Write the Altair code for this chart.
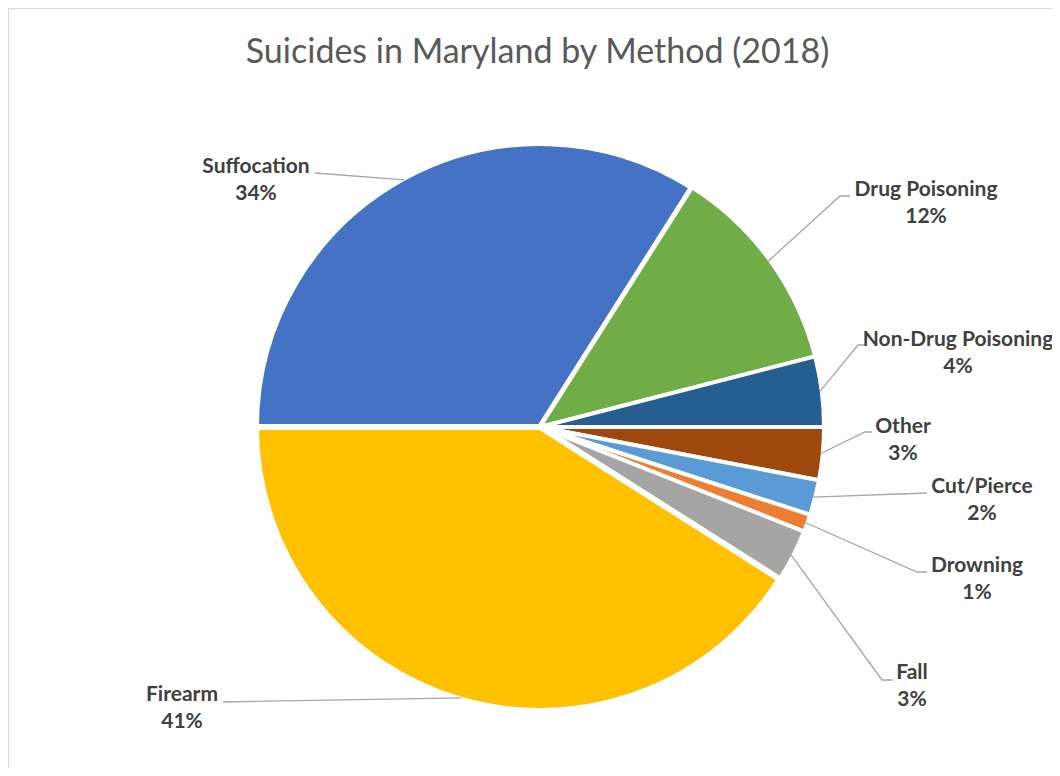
import math
import altair as alt
import pandas as pd

# ---- data -------------------------------------------------------------
methods = ["Suffocation", "Drug Poisoning", "Non-Drug Poisoning", "Other",
           "Cut/Pierce", "Drowning", "Fall", "Firearm"]
percents = [34, 12, 4, 3, 2, 1, 3, 41]
colors = ["#4472C4", "#70AD47", "#255E91", "#9E480E",
          "#5B9BD5", "#ED7D31", "#A5A5A5", "#FFC000"]
title_text = "Suicides in Maryland by Method (2018)"

# ---- layout (pixels relative to the pie centre, y up) ------------------
R = 284
label_pos = [(-284, 260), (386, 237), (418, 87), (363, 0),
             (442, -60), (437, -139), (372, -246), (-358, -268)]
leader_elbow = [(-225, 254), (300, 231), (318, 82), (325, -5),
                (387, -66), (377, -145), (342, -253), (-317, -275)]
leader_end = [(-225, 254), (310, 231), (325, 82), (332, -5),
              (387, -66), (387, -145), (353, -253), (-317, -275)]
stroke_w = [6, 4, 4, 4, 4, 4, 4, 6]

W, H = 1043, 690
PAD_L, PAD_T = 1, 70
CX, CY = 540 - 8 - PAD_L, 427 - 8 - PAD_T  # centre inside the view
xdom = [-CX, W - CX]
ydom = [-(H - CY), CY]
xs = alt.Scale(domain=xdom, nice=False, zero=False)
ys = alt.Scale(domain=ydom, nice=False, zero=False)

total = sum(percents)
rows, leaders, labels = [], [], []
acc = 0.0
for i, (m, p) in enumerate(zip(methods, percents)):
    t0 = acc / total * 100
    acc += p
    t1 = acc / total * 100
    rows.append({"method": m, "t0": t0, "t1": t1, "sw": stroke_w[i], "order": i})
    mid = math.radians(270 + (t0 + t1) / 2 * 3.6)
    sx, sy = (R - 2) * math.sin(mid), (R - 2) * math.cos(mid)
    pts = [(sx, sy), leader_elbow[i], leader_end[i]]
    for k, (x, y) in enumerate(pts):
        leaders.append({"method": m, "k": k, "x": x, "y": y})
    labels.append({"method": m, "text": f"{m}\n{p}%",
                   "x": label_pos[i][0], "y": label_pos[i][1]})

slices = pd.DataFrame(rows)
lead_df = pd.DataFrame(leaders)
lab_df = pd.DataFrame(labels)

theta_scale = alt.Scale(domain=[0, 100],
                        range=[1.5 * math.pi, 3.5 * math.pi])

pie = alt.Chart(slices).mark_arc(radius=R, stroke="white").encode(
    theta=alt.Theta("t0:Q", scale=theta_scale, stack=False),
    theta2="t1:Q",
    x=alt.datum(0, scale=xs, axis=None),
    y=alt.datum(0, scale=ys, axis=None),
    color=alt.Color("method:N", scale=alt.Scale(domain=methods, range=colors),
                    legend=None),
    strokeWidth=alt.StrokeWidth("sw:Q", scale=None),
    order=alt.Order("order:Q"),
)

lines = alt.Chart(lead_df).mark_line(color="#a6a6a6", strokeWidth=1.3).encode(
    x=alt.X("x:Q", scale=xs, axis=None),
    y=alt.Y("y:Q", scale=ys, axis=None),
    detail="method:N",
    order="k:Q",
)

texts = alt.Chart(lab_df).mark_text(
    font="Lato", fontSize=21, fontWeight="bold", color="#404040",
    lineBreak="\n", lineHeight=27, align="center", baseline="middle",
).encode(
    x=alt.X("x:Q", scale=xs, axis=None),
    y=alt.Y("y:Q", scale=ys, axis=None),
    text="text:N",
)

frame_top = alt.Chart(slices).mark_rule(color="#d9d9d9", strokeWidth=1).encode(
    x=alt.value(-0.5), x2=alt.value(W), y=alt.value(-PAD_T + 0.5))
frame_left = alt.Chart(slices).mark_rule(color="#d9d9d9", strokeWidth=1).encode(
    x=alt.value(-0.5), y=alt.value(-PAD_T + 0.5), y2=alt.value(H))

chart = alt.layer(pie, lines, texts, frame_top, frame_left).properties(
    width=W, height=H,
    autosize=alt.AutoSizeParams(type="none"),
    padding={"left": PAD_L, "top": PAD_T, "right": 0, "bottom": 0},
    title=alt.TitleParams(title_text, font="Lato", fontSize=34,
                          fontWeight="normal", color="#595959",
                          anchor="middle", baseline="middle", offset=-79, dx=7,
                          frame="group"),
).configure_view(stroke=None)

chart.save("out.html", embed_options={"renderer": "svg", "actions": False})
